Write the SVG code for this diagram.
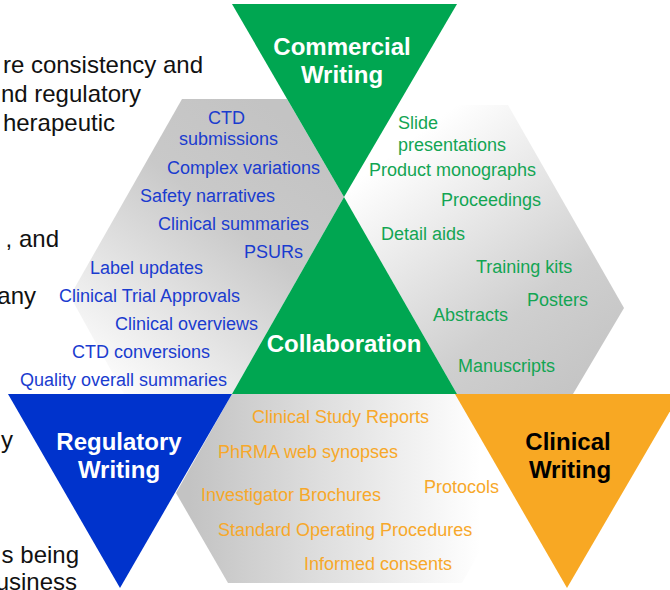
<svg xmlns="http://www.w3.org/2000/svg" width="670" height="590" viewBox="0 0 670 590">
<defs>
<linearGradient id="gLeft" gradientUnits="userSpaceOnUse" x1="300" y1="130" x2="100" y2="390">
<stop offset="0" stop-color="#c3c3c3"/><stop offset="0.35" stop-color="#c9c9c9"/><stop offset="1" stop-color="#ffffff"/>
</linearGradient>
<linearGradient id="gRight" gradientUnits="userSpaceOnUse" x1="410" y1="140" x2="600" y2="390">
<stop offset="0" stop-color="#ffffff"/><stop offset="0.65" stop-color="#cfcfcf"/><stop offset="1" stop-color="#c3c3c3"/>
</linearGradient>
<linearGradient id="gBottom" gradientUnits="userSpaceOnUse" x1="190" y1="0" x2="480" y2="0">
<stop offset="0" stop-color="#c3c3c3"/><stop offset="1" stop-color="#ffffff"/>
</linearGradient>
<style>
.bg{font-family:"Liberation Sans",Arial,Helvetica,sans-serif;font-size:24px;fill:#111}
.it{font-family:"Liberation Sans",Arial,Helvetica,sans-serif;font-size:18px}
.blue{fill:#1a3ccf}
.green{fill:#13a553}
.orange{fill:#f7a82a}
.tt{font-family:"Liberation Sans",Arial,Helvetica,sans-serif;font-size:24px;font-weight:bold;text-anchor:middle}
.w{fill:#ffffff}
.k{fill:#000000}
</style>
</defs>
<rect width="670" height="590" fill="#ffffff"/>
<g id="background-text" class="bg" text-anchor="end">
<text x="203" y="73">re consistency and</text>
<text x="141" y="102">nd regulatory</text>
<text x="115" y="131">herapeutic</text>
<text x="59" y="247">, and</text>
<text x="36" y="304">any</text>
<text x="13" y="448">y</text>
<text x="79" y="563">s being</text>
<text x="77" y="590">usiness</text>
</g>
<g id="regulatory-items">
<polygon points="182,99 287,99 344,197 232,394 124,394 70,296" fill="url(#gLeft)"/>
</g>
<g id="commercial-items">
<polygon points="344,197 398,105 508,105 624,308 573,394 457,394" fill="url(#gRight)"/>
</g>
<g id="clinical-items">
<polygon points="232,394 457,394 513,493 462,583 228,583 176,493" fill="url(#gBottom)"/>
</g>
<g id="commercial-writing">
<polygon points="232,4 457,4 344,197" fill="#00a651"/>
<text class="tt w" x="342" y="55">Commercial</text>
<text class="tt w" x="342" y="83">Writing</text>
</g>
<g id="collaboration">
<polygon points="344,197 457,394 232,394" fill="#00a651"/>
<text class="tt w" x="344" y="352">Collaboration</text>
</g>
<g id="regulatory-writing">
<polygon points="8,394 232,394 120,588" fill="#0033cc"/>
<text class="tt w" x="119" y="450">Regulatory</text>
<text class="tt w" x="119" y="478">Writing</text>
</g>
<g id="clinical-writing">
<polygon points="455,394 680,394 567,588" fill="#f8a823"/>
<text class="tt k" x="568" y="450">Clinical</text>
<text class="tt k" x="570" y="478">Writing</text>
</g>
<g id="regulatory-labels" class="it blue">
<text x="208" y="124">CTD</text>
<text x="179" y="145">submissions</text>
<text x="167" y="174">Complex variations</text>
<text x="140" y="202">Safety narratives</text>
<text x="158" y="230">Clinical summaries</text>
<text x="244" y="258">PSURs</text>
<text x="90" y="274">Label updates</text>
<text x="59" y="302">Clinical Trial Approvals</text>
<text x="115" y="330">Clinical overviews</text>
<text x="72" y="358">CTD conversions</text>
<text x="20" y="386">Quality overall summaries</text>
</g>
<g id="commercial-labels" class="it green">
<text x="398" y="129">Slide</text>
<text x="398" y="151">presentations</text>
<text x="369" y="176">Product monographs</text>
<text x="441" y="206">Proceedings</text>
<text x="381" y="240">Detail aids</text>
<text x="476" y="273">Training kits</text>
<text x="527" y="306">Posters</text>
<text x="433" y="321">Abstracts</text>
<text x="458" y="372">Manuscripts</text>
</g>
<g id="clinical-labels" class="it orange">
<text x="252" y="423">Clinical Study Reports</text>
<text x="218" y="458">PhRMA web synopses</text>
<text x="424" y="493">Protocols</text>
<text x="201" y="501">Investigator Brochures</text>
<text x="218" y="536">Standard Operating Procedures</text>
<text x="304" y="570">Informed consents</text>
</g>
<g id="connectors"/>
</svg>
